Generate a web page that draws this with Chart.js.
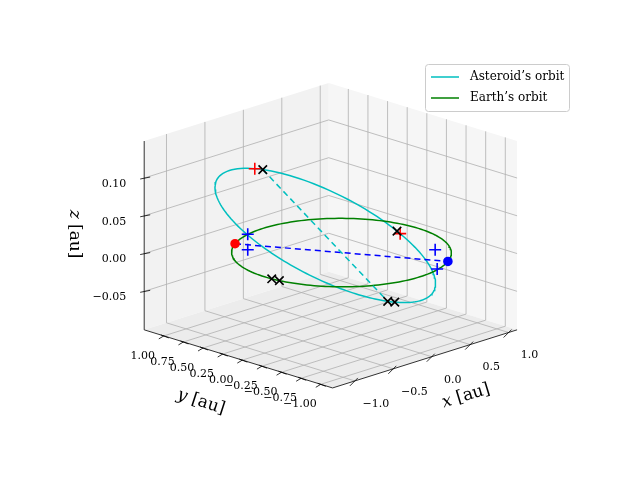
<!DOCTYPE html>
<html>
<head>
<meta charset="utf-8">
<script src="https://cdn.jsdelivr.net/npm/chart.js@4"></script>
<style>
  body { margin: 0; background: #fff; }
  #wrap { width: 640px; height: 480px; }
</style>
</head>
<body>
<div id="wrap"><canvas id="chart" width="640" height="480"></canvas></div>
<script>
// axis limits and ticks (3D box)
const xLim = [-1.29, 1.11];
const yLim = [-1.15, 1.25];
const zLim = [-0.101, 0.149];
const xTicks = [-1.0, -0.5, 0.0, 0.5, 1.0];
const yTicks = [-1.0, -0.75, -0.5, -0.25, 0.0, 0.25, 0.5, 0.75, 1.0];
const zTicks = [-0.05, 0.0, 0.05, 0.10];
const xTickLabels = ["−1.0", "−0.5", "0.0", "0.5", "1.0"];
const yTickLabels = ["−1.00", "−0.75", "−0.50", "−0.25", "0.00", "0.25", "0.50", "0.75", "1.00"];
const zTickLabels = ["−0.05", "0.00", "0.05", "0.10"];

// asteroid orbital elements (a [au], e, i, node, perihelion arg in degrees)
const astA = 1.03, astE = 0.26, astI = 3.6, astNode = 30, astPeri = 228;
// markers on the asteroid orbit (true anomaly, degrees)
const astCrossNu = [180, 0, 6, 119];
const astRedPlusNu = [184, 117];
// markers on Earth's orbit (angle, degrees)
const earthCrossAng = [185, 190];
const earthRedDotAng = [120];
const earthBlueDotAng = [300];
// blue plus markers, x/y/z in au
const bluePlusX = [-0.377, -0.385, 0.506, 0.43];
const bluePlusY = [0.825, 0.817, -0.698, -0.798];
const bluePlusZ = [0.01, -0.01, 0.01, -0.01];

// view: screen position of origin and unit vectors
const O = [342, 253], EX = [78.75, -25], EY = [-80.4, -25], EZ = [0, -780];
const proj = (x, y, z) => ({
  x: O[0] + x * EX[0] + y * EY[0] + z * EZ[0],
  y: O[1] + x * EX[1] + y * EY[1] + z * EZ[1],
});
const rad = (d) => d * Math.PI / 180;

function astPos(nu) {
  const r = astA * (1 - astE * astE) / (1 + astE * Math.cos(rad(nu)));
  const u = rad(astPeri + nu), W = rad(astNode), i = rad(astI);
  return [
    r * (Math.cos(W) * Math.cos(u) - Math.sin(W) * Math.sin(u) * Math.cos(i)),
    r * (Math.sin(W) * Math.cos(u) + Math.cos(W) * Math.sin(u) * Math.cos(i)),
    r * Math.sin(u) * Math.sin(i),
  ];
}
const earthPos = (a) => [Math.cos(rad(a)), Math.sin(rad(a)), 0];
const P = (p) => proj(p[0], p[1], p[2]);

const sweep = [];
for (let t = 0; t <= 360; t += 2) sweep.push(t);
const astOrbit = sweep.map((t) => P(astPos(t)));
const earthOrbit = sweep.map((t) => P(earthPos(t)));

const FONT = "'DejaVu Serif', 'Liberation Serif', serif";

const box3d = {
  id: "box3d",
  beforeDatasetsDraw(chart) {
    const c = chart.ctx, sx = chart.scales.x, sy = chart.scales.y;
    const pt = (x, y, z) => { const p = proj(x, y, z); return [sx.getPixelForValue(p.x), sy.getPixelForValue(p.y)]; };
    const poly = (pts, fill) => {
      c.beginPath(); pts.forEach((p, k) => k ? c.lineTo(p[0], p[1]) : c.moveTo(p[0], p[1]));
      c.closePath(); c.fillStyle = fill; c.fill();
    };
    const line = (a, b, col, w) => {
      c.beginPath(); c.moveTo(a[0], a[1]); c.lineTo(b[0], b[1]);
      c.strokeStyle = col; c.lineWidth = w; c.stroke();
    };
    const [x0, x1] = xLim, [y0, y1] = yLim, [z0, z1] = zLim;
    c.save();
    // panes
    poly([pt(x0, y1, z0), pt(x1, y1, z0), pt(x1, y1, z1), pt(x0, y1, z1)], "#f2f2f2");
    poly([pt(x1, y0, z0), pt(x1, y1, z0), pt(x1, y1, z1), pt(x1, y0, z1)], "#f6f6f6");
    poly([pt(x0, y0, z0), pt(x1, y0, z0), pt(x1, y1, z0), pt(x0, y1, z0)], "#ececec");
    // grid
    const g = "#b0b0b0";
    xTicks.forEach((v) => { line(pt(v, y0, z0), pt(v, y1, z0), g, 0.8); line(pt(v, y1, z0), pt(v, y1, z1), g, 0.8); });
    yTicks.forEach((v) => { line(pt(x0, v, z0), pt(x1, v, z0), g, 0.8); line(pt(x1, v, z0), pt(x1, v, z1), g, 0.8); });
    zTicks.forEach((v) => { line(pt(x0, y1, v), pt(x1, y1, v), g, 0.8); line(pt(x1, y0, v), pt(x1, y1, v), g, 0.8); });
    // axis lines
    line(pt(x0, y0, z0), pt(x1, y0, z0), "#000", 0.8);
    line(pt(x0, y0, z0), pt(x0, y1, z0), "#000", 0.8);
    line(pt(x0, y1, z0), pt(x0, y1, z1), "#000", 0.8);
    // ticks and labels
    c.fillStyle = "#000"; c.font = "11px " + FONT; c.textBaseline = "middle";
    c.textAlign = "center";
    xTicks.forEach((v, k) => {
      const a = pt(v, y0, z0);
      line([a[0] + 3, a[1] - 3], [a[0] - 5, a[1] + 5], "#000", 0.8);
      c.fillText(xTickLabels[k], a[0] + 21, a[1] + 23);
    });
    yTicks.forEach((v, k) => {
      const a = pt(x0, v, z0);
      line([a[0] - 3, a[1] - 1], [a[0] + 5, a[1] + 2], "#000", 0.8);
      line([a[0] - 5, a[1] + 3], [a[0], a[1]], "#000", 0.8);
      c.fillText(yTickLabels[k], a[0] - 21, a[1] + 20);
    });
    c.textAlign = "right";
    zTicks.forEach((v, k) => {
      const a = pt(x0, y1, v);
      line([a[0] - 4, a[1] + 1], [a[0] + 6, a[1] - 1], "#000", 0.8);
      c.fillText(zTickLabels[k], a[0] - 18, a[1] + 6);
    });
    // axis titles
    c.font = "17px " + FONT; c.textAlign = "center";
    const title = (txt, x, y, ang) => {
      c.save(); c.translate(x, y); c.rotate(rad(ang));
      c.font = "italic 17px " + FONT; const w1 = c.measureText(txt[0] + " ").width;
      c.font = "17px " + FONT; const w2 = c.measureText(txt[1]).width;
      const s = -(w1 + w2) / 2;
      c.textAlign = "left";
      c.font = "italic 17px " + FONT; c.fillText(txt[0], s, 0);
      c.font = "17px " + FONT; c.fillText(txt[1], s + w1, 0);
      c.restore();
    };
    title(["x", "[au]"], 466, 396, -17);
    title(["y", "[au]"], 201, 402, 18);
    title(["z", "[au]"], 74, 234, 90);
    c.restore();
  },
  afterDraw(chart) {
    const c = chart.ctx;
    c.save();
    c.fillStyle = "rgba(255,255,255,0.85)"; c.strokeStyle = "#cccccc"; c.lineWidth = 1;
    c.beginPath(); c.roundRect(425.5, 64.5, 144, 47, 3); c.fill(); c.stroke();
    const items = [["Asteroid’s orbit", "#00bfbf"], ["Earth’s orbit", "#008000"]];
    c.font = "12px " + FONT; c.textBaseline = "middle"; c.textAlign = "left"; c.fillStyle = "#000";
    items.forEach((it, k) => {
      const y = 77 + k * 21;
      c.beginPath(); c.moveTo(431, y); c.lineTo(459, y); c.strokeStyle = it[1]; c.lineWidth = 1.5; c.stroke();
      c.fillText(it[0], 470, y);
    });
    c.restore();
  },
};

const mk = (data, style, color, r, order) => ({
  data, showLine: false, pointStyle: style, pointRadius: r, pointBorderColor: color,
  pointBackgroundColor: color, pointBorderWidth: 1.6, order,
});
const ln = (data, color, dash, order) => ({
  data, showLine: true, borderColor: color, borderWidth: 1.5, borderDash: dash, pointRadius: 0, order,
});

new Chart(document.getElementById("chart").getContext("2d"), {
  type: "scatter",
  data: {
    datasets: [
      ln(earthOrbit, "#008000", [], 5),
      ln(astOrbit, "#00bfbf", [], 5),
      ln([P(astPos(180)), P(astPos(0))], "#00bfbf", [6, 4], 4),
      ln([P(earthPos(earthRedDotAng[0])), P(earthPos(earthBlueDotAng[0]))], "#0000ff", [6, 4], 4),
      mk(earthRedDotAng.map((a) => P(earthPos(a))), "circle", "#ff0000", 4, 2),
      mk(earthBlueDotAng.map((a) => P(earthPos(a))), "circle", "#0000ff", 4, 2),
      mk(astRedPlusNu.map((n) => P(astPos(n))), "cross", "#ff0000", 6, 1),
      mk(bluePlusX.map((x, k) => proj(x, bluePlusY[k], bluePlusZ[k])), "cross", "#0000ff", 6, 1),
      mk(astCrossNu.map((n) => P(astPos(n))), "crossRot", "#000000", 6, 0),
      mk(earthCrossAng.map((a) => P(earthPos(a))), "crossRot", "#000000", 6, 0),
    ],
  },
  options: {
    responsive: false,
    animation: false,
    layout: { padding: 0 },
    scales: {
      x: { type: "linear", min: 0, max: 640, display: false },
      y: { type: "linear", min: 0, max: 480, reverse: true, display: false },
    },
    plugins: { legend: { display: false }, tooltip: { enabled: false } },
  },
  plugins: [box3d],
});
</script>
</body>
</html>
